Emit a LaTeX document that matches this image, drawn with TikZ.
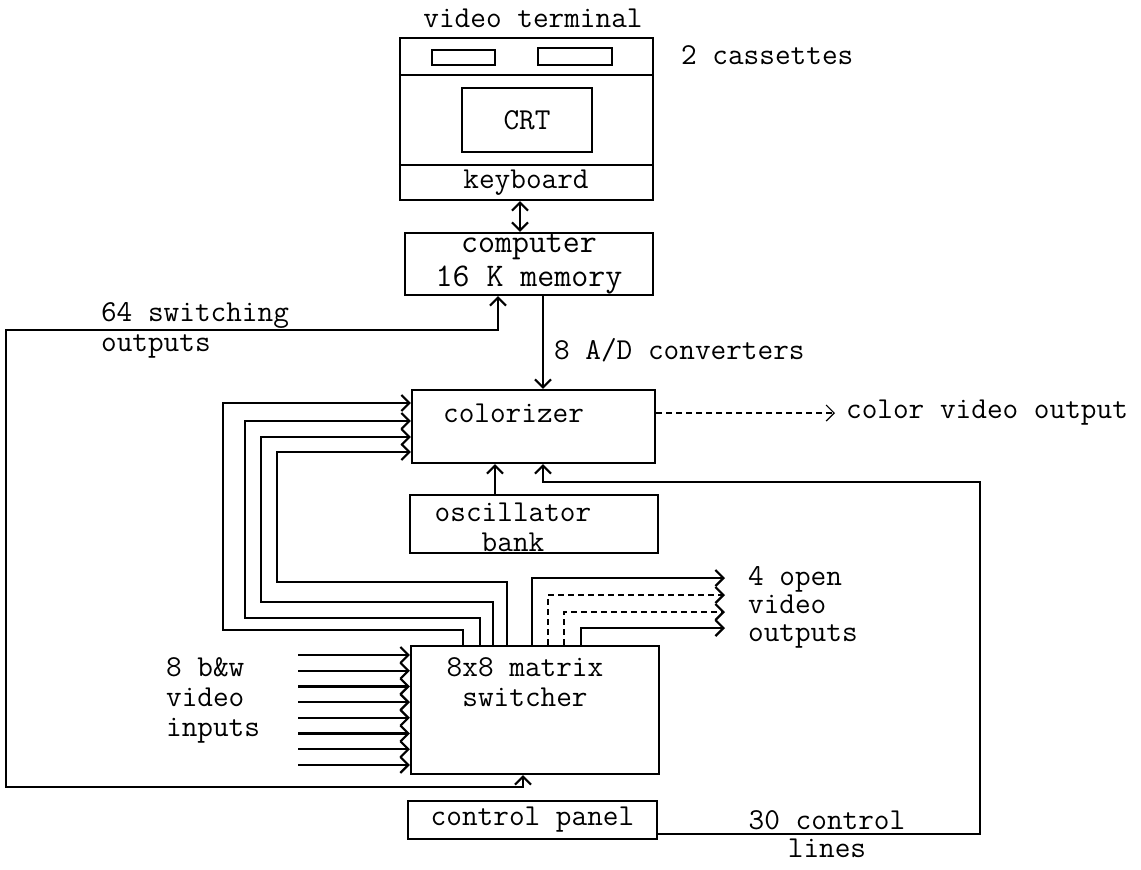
\documentclass[tikz,border=0pt]{standalone}
\usetikzlibrary{arrows.meta}
\begin{document}
\begin{tikzpicture}[x=0.5pt, y=-0.5pt, line width=1.1pt,
    box/.style={draw, rectangle, inner sep=0pt},
    txt/.style={font=\fontsize{15.2}{15}\selectfont\ttfamily, inner sep=0pt},
    >={Straight Barb[length=4pt, width=8pt]}]
  \useasboundingbox (0,0) rectangle (1141,869);
  % video terminal
  \node[box, minimum width=126.5pt, minimum height=81pt] (terminal) at (526.5,119) {};
  \node[box, minimum width=31.5pt, minimum height=7.5pt] (cassette1) at (463.5,57.5) {};
  \node[box, minimum width=37pt, minimum height=8.5pt] (cassette2) at (575,56.5) {};
  \node[box, txt, minimum width=65pt, minimum height=32pt] (crt) at (527,120) {CRT};
  \draw (terminal.west |- 0,75) -- (terminal.east |- 0,75);
  \draw (terminal.west |- 0,165) -- (terminal.east |- 0,165);
  \node[txt] (keyboard) at (526,183) {keyboard};
  \node[txt] (termlabel) at (533,18) {video terminal};
  \node[txt, anchor=west] (cassettes) at (680,55) {2 cassettes};
  % computer and the boxes below it
  \node[box, txt, font=\fontsize{16.5}{17}\selectfont\ttfamily, align=center,
    minimum width=124pt, minimum height=31pt] (computer) at (529,264) {computer\\16 K memory};
  \node[box, minimum width=121.5pt, minimum height=36.5pt] (colorizer) at (533.5,426.5) {};
  \node[txt, anchor=west] (colorizerlabel) at (442,413) {colorizer};
  \node[box, minimum width=124pt, minimum height=29pt] (osc) at (534,524) {};
  \node[txt, align=center] (osclabel) at (513,527) {oscillator\\bank};
  \node[box, minimum width=124pt, minimum height=64pt] (matrix) at (535,710) {};
  \node[txt, align=center] (matrixlabel) at (525,682) {8x8 matrix\\switcher};
  \node[box, txt, minimum width=124.5pt, minimum height=19pt] (control) at (532.5,820) {control panel};
  % labels
  \node[txt, anchor=west] (adlabel) at (553,350) {8 A/D converters};
  \node[txt, anchor=west] (colorout) at (845,413) {color video output};
  \node[txt, anchor=west, align=left] (switching) at (100,330) {64 switching\\outputs};
  \node[txt, font=\fontsize{15.2}{14.2}\selectfont\ttfamily, anchor=north west, align=left]
    (openout) at (747,565) {4 open\\video\\outputs};
  \node[txt, anchor=west, align=left] (bwin) at (165,700) {8 b\&w\\video\\inputs};
  \node[txt, font=\fontsize{15.2}{14.2}\selectfont\ttfamily, align=center]
    (controllines) at (827,834) {30 control\\lines};
  % connectors
  \draw[<->] (520,0 |- terminal.south) -- (520,0 |- computer.north);
  \draw[<->] (498,0 |- computer.south) -- (498,330) -- (6,330) -- (6,787) -- (523,787)
    -- (523,0 |- matrix.south);
  \draw[->] (543,0 |- computer.south) -- (543,0 |- colorizer.north);
  \draw[->, densely dashed, line width=0.6pt] (colorizer.east |- 0,413) -- (835,413);
  \draw[->] (495,0 |- osc.north) -- (495,0 |- colorizer.south);
  \draw[->] (control.east |- 0,834) -- (980,834) -- (980,482) -- (543,482)
    -- (543,0 |- colorizer.south);
  \foreach \a/\b/\c/\d in {463/630/223/403, 480/618/245/421, 493/602/261/437, 507/582/277/452}
    \draw[->] (\a,0 |- matrix.north) |- (\c,\b) |- (colorizer.west |- 0,\d);
  \foreach \a/\b/\s in {532/578/solid, 548/595/densely dashed, 564/612/densely dashed, 581/628/solid}
    \draw[->, \s] (\a,0 |- matrix.north) |- (725,\b);
  \foreach \i in {0,...,7} {
    \coordinate (in\i) at (298,655+15.7*\i);
    \draw[->] (in\i) -- (in\i -| matrix.west);
  }
\end{tikzpicture}
\end{document}
